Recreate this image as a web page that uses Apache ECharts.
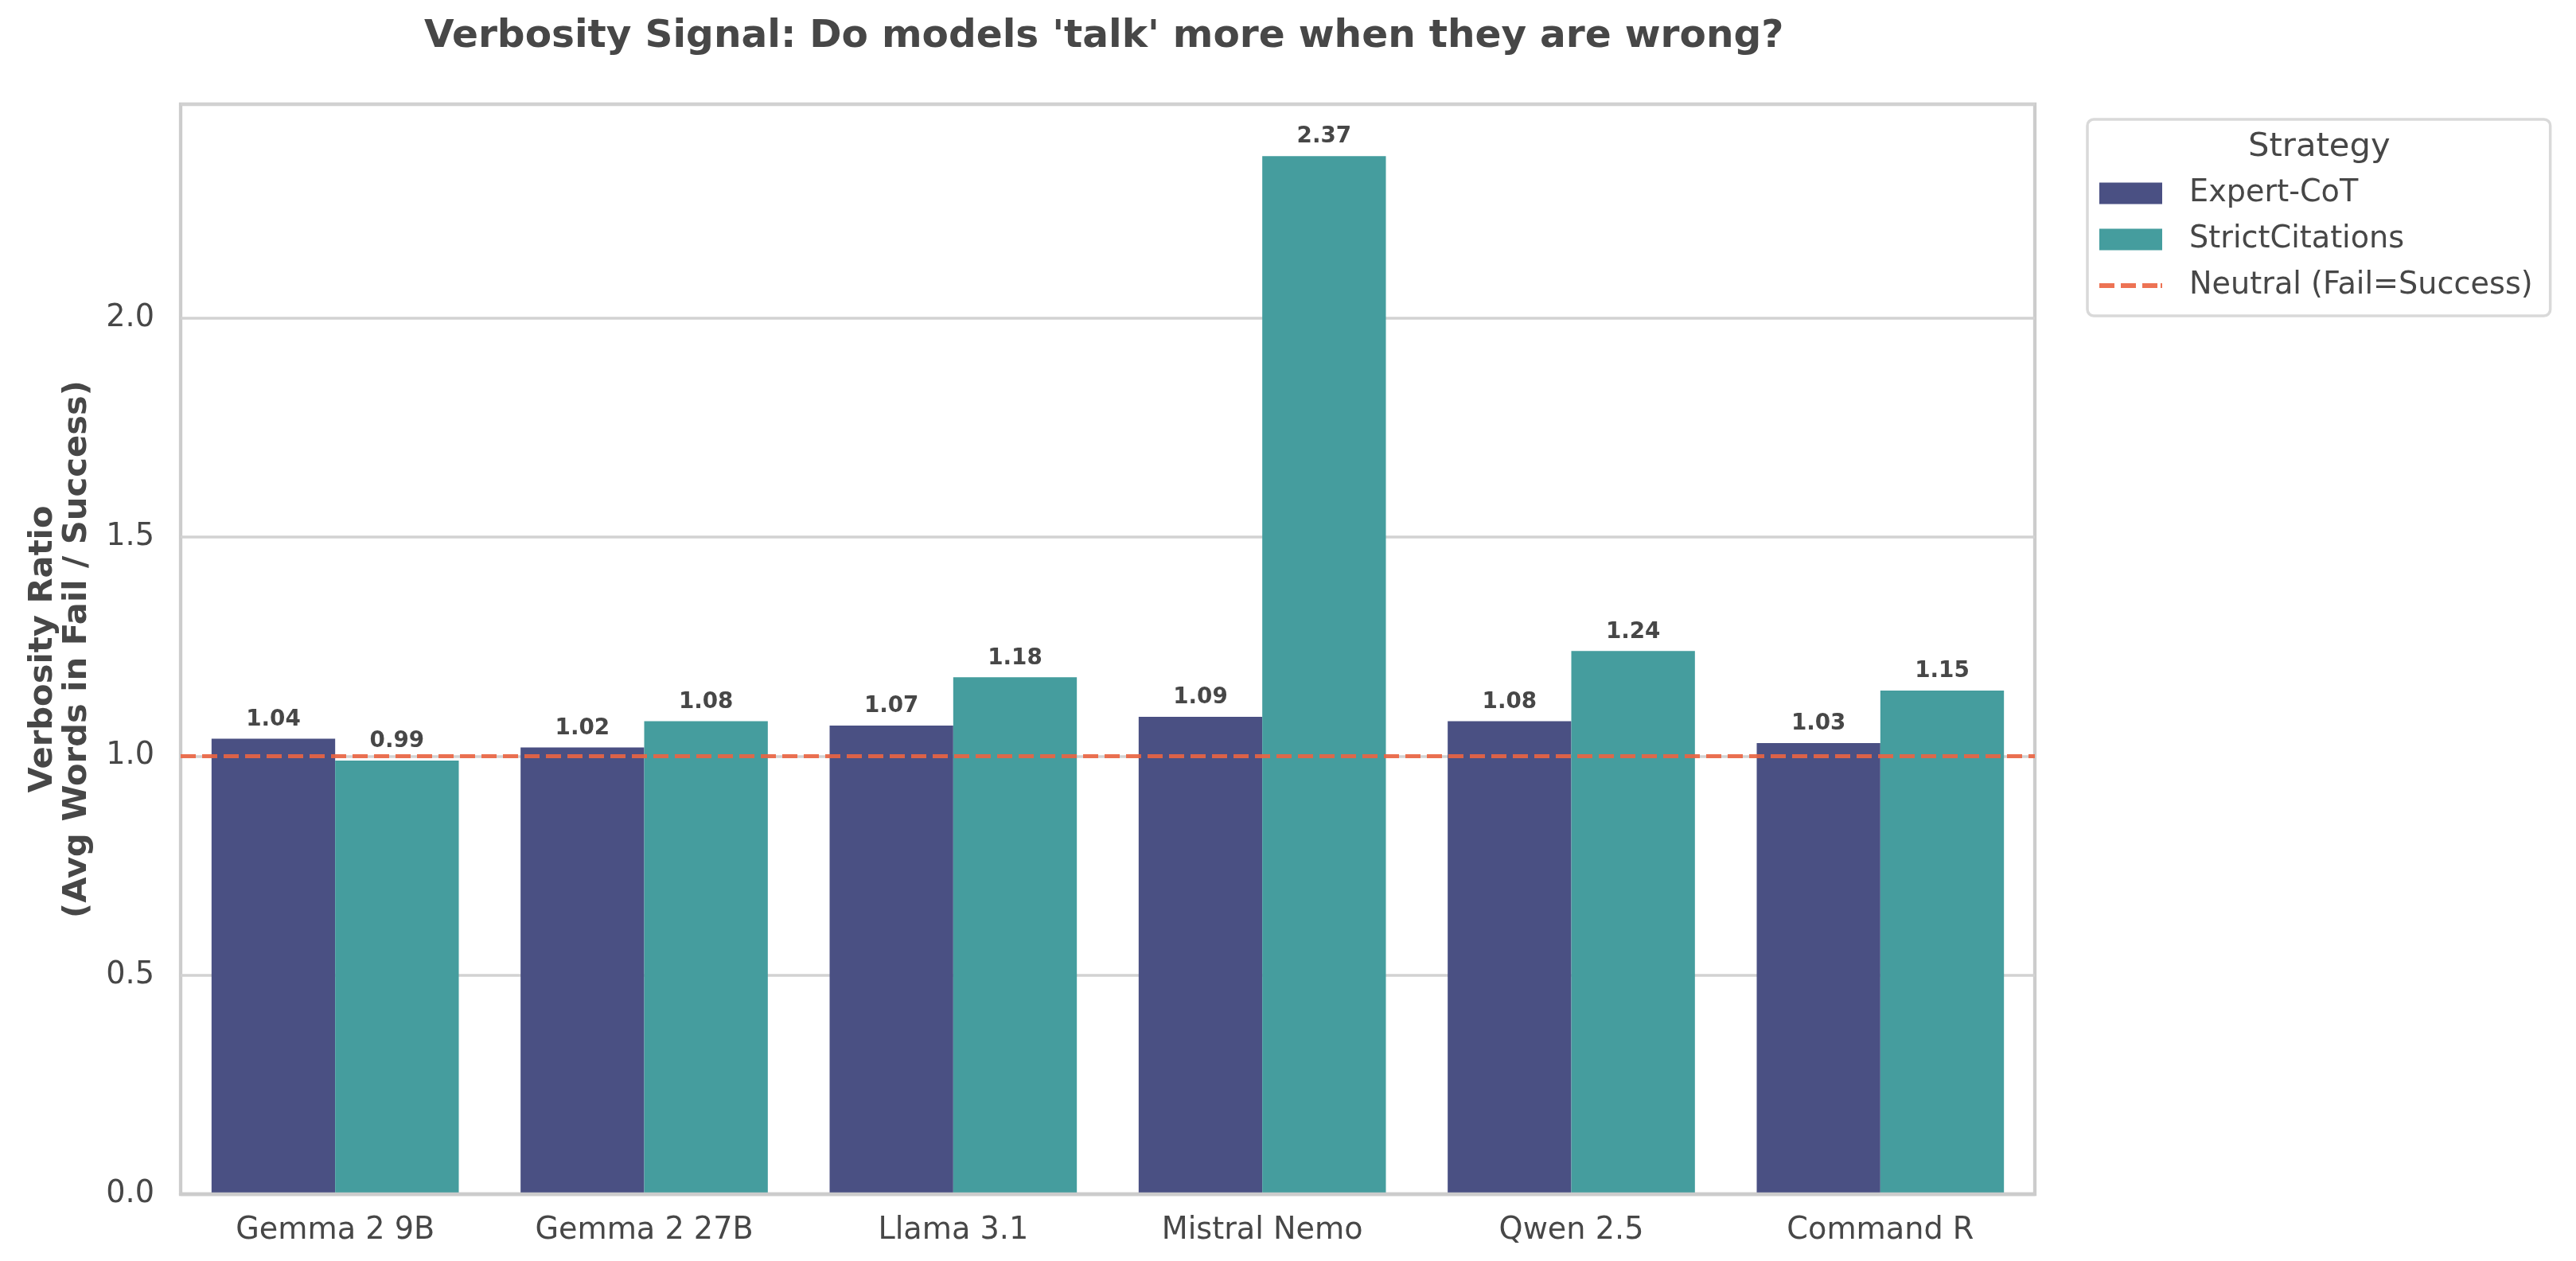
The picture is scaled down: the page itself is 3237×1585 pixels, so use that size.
<!DOCTYPE html>
<html>
<head>
<meta charset="utf-8">
<script src="https://cdn.jsdelivr.net/npm/echarts@6/dist/echarts.min.js"></script>
<style>
  html, body { margin: 0; padding: 0; background: #ffffff; }
  #chart { width: 3237px; height: 1585px; }
</style>
</head>
<body>
<div id="chart"></div>
<script>
const models = ['Gemma 2 9B', 'Gemma 2 27B', 'Llama 3.1', 'Mistral Nemo', 'Qwen 2.5', 'Command R'];
const expertCoT = [1.04, 1.02, 1.07, 1.09, 1.08, 1.03];
const strictCitations = [0.99, 1.08, 1.18, 2.37, 1.24, 1.15];
const neutralValue = 1.0;
const yTicks = [0, 0.5, 1.0, 1.5, 2.0];
const yMax = 2.4885;

const TEXT = '#474747';
const FONT = 'DejaVu Sans';
const lineColor = 'rgba(235,100,65,0.9)';
const dashIcon = 'path://M0,0M79,27M0,10.5h19v6h-19zM27,10.5h19v6h-19zM54,10.5h19v6h-19zM77,10.5h2v6h-2z';

const chart = echarts.init(document.getElementById('chart'), null, { renderer: 'canvas' });

const barLabel = {
  show: true,
  position: 'top',
  distance: 10,
  fontSize: 27.8,
  fontWeight: 'bold',
  color: TEXT,
  fontFamily: FONT,
  formatter: p => p.value.toFixed(2)
};

const option = {
  backgroundColor: '#ffffff',
  animation: false,
  textStyle: { fontFamily: FONT, color: TEXT },
  title: [
    {
      text: "Verbosity Signal: Do models 'talk' more when they are wrong?",
      left: 533,
      top: 22,
      padding: 0,
      textStyle: { fontSize: 48.6, fontWeight: 'bold', color: TEXT, fontFamily: FONT }
    },
    {
      text: 'Strategy',
      left: 2825,
      top: 164,
      padding: 0,
      textStyle: { fontSize: 41.7, fontWeight: 'normal', color: TEXT, fontFamily: FONT }
    }
  ],
  legend: {
    orient: 'vertical',
    left: 2623,
    top: 150,
    padding: [74, 22, 19, 15],
    itemWidth: 79,
    itemHeight: 27,
    itemGap: 20,
    borderColor: '#d9d9d9',
    borderWidth: 3.5,
    borderRadius: 8,
    backgroundColor: '#ffffff',
    textStyle: { fontSize: 38.2, lineHeight: 38, color: TEXT, fontFamily: FONT, padding: [0, 0, 0, 29] },
    data: [
      { name: 'Expert-CoT', icon: 'rect' },
      { name: 'StrictCitations', icon: 'rect' },
      { name: 'Neutral (Fail=Success)', icon: dashIcon, itemStyle: { color: lineColor, borderWidth: 0 } }
    ]
  },
  grid: {
    left: 227,
    right: 680,
    top: 131,
    bottom: 84,
    show: true,
    borderColor: '#cccccc',
    borderWidth: 4.3,
    backgroundColor: 'transparent',
    containLabel: false
  },
  xAxis: {
    type: 'category',
    data: models,
    z: 5,
    axisLine: { show: true, lineStyle: { color: '#cccccc', width: 4.3 } },
    axisTick: { show: false },
    axisLabel: { fontSize: 38.2, color: TEXT, margin: 27, fontFamily: FONT },
    splitLine: { show: false }
  },
  yAxis: {
    type: 'value',
    min: 0,
    max: yMax,
    interval: 0.5,
    name: 'Verbosity Ratio\n(Avg Words in Fail / Success)',
    nameLocation: 'middle',
    nameGap: 108,
    nameTextStyle: { fontSize: 41.7, fontWeight: 'bold', color: TEXT, lineHeight: 43, fontFamily: FONT },
    axisLine: { show: false },
    axisTick: { show: false },
    axisLabel: {
      fontSize: 38.2,
      color: TEXT,
      margin: 33,
      fontFamily: FONT,
      showMaxLabel: false,
      formatter: v => (yTicks.some(t => Math.abs(t - v) < 1e-9) ? v.toFixed(1) : '')
    },
    splitLine: { show: true, lineStyle: { color: '#d2d2d2', width: 3.5 } }
  },
  series: [
    {
      name: 'Expert-CoT',
      type: 'bar',
      data: expertCoT,
      barWidth: '40%',
      barGap: '0%',
      itemStyle: { color: '#4a5083' },
      label: barLabel
    },
    {
      name: 'StrictCitations',
      type: 'bar',
      data: strictCitations,
      barWidth: '40%',
      barGap: '0%',
      itemStyle: { color: '#459d9e' },
      label: barLabel
    },
    {
      name: 'Neutral (Fail=Success)',
      type: 'line',
      data: [],
      symbol: 'none',
      itemStyle: { color: lineColor },
      lineStyle: { color: lineColor, width: 5.2, type: [19, 8] },
      markLine: {
        silent: true,
        symbol: ['none', 'none'],
        label: { show: false },
        z: 6,
        lineStyle: { color: lineColor, width: 5.2, type: [19, 8] },
        data: [{ yAxis: neutralValue }]
      }
    }
  ]
};

chart.setOption(option);
</script>
</body>
</html>
